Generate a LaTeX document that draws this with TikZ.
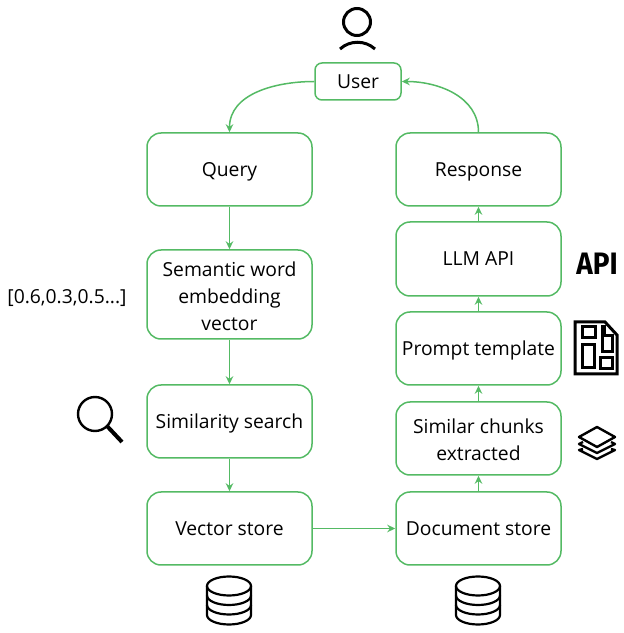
\documentclass[tikz,border=0pt]{standalone}
\usepackage{fontspec}
\setmainfont{Open Sans}
\newfontfamily\apifont{Fira Sans}
\usetikzlibrary{arrows.meta}
\definecolor{boxgreen}{RGB}{84,186,100}
\tikzset{
    box/.style={draw=boxgreen, line width=1.5pt, rounded corners=14pt, minimum width=165pt, align=center, font=\fontsize{19.3}{27}\selectfont, inner sep=0pt},
    oneline/.style={box, text height=16pt, text depth=2.5pt},
    link/.style={draw=boxgreen, line width=1.5pt, -{Stealth[length=8pt,width=7.5pt]}},
    icon/.style={draw=black, line width=3pt, fill=none},
    dbicon/.pic={
        \draw[black, line width=2.2pt] (0,0) ellipse [x radius=22, y radius=9.5];
        \draw[black, line width=2.2pt] (-22,0) -- (-22,-29) arc [start angle=180, end angle=360, x radius=22, y radius=9.5] -- (22,0);
        \draw[black, line width=2.2pt] (-22,-9.5) arc [start angle=180, end angle=360, x radius=22, y radius=9.5];
        \draw[black, line width=2.2pt] (-22,-19) arc [start angle=180, end angle=360, x radius=22, y radius=9.5];
    }
}
\begin{document}
\begin{tikzpicture}[x=1pt, y=1pt]
    \useasboundingbox (0,0) rectangle (624,633);
    % left column
    \node[oneline, minimum width=86pt, minimum height=37pt, rounded corners=7pt] (user) at (358,551.5) {User};
    \node[oneline, minimum height=73pt] (query) at (229.5,463.5) {Query};
    \node[box, minimum height=89pt] (semantic) at (229.5,338.5) {\rule{0pt}{18pt}Semantic word\\embedding\\vector};
    \node[oneline, minimum height=73pt] (similarity) at (229.5,211.5) {Similarity search};
    \node[oneline, minimum height=73pt] (vector) at (229.5,104.5) {Vector store};
    % right column
    \node[oneline, minimum height=73pt] (response) at (478.5,463.5) {Response};
    \node[oneline, minimum height=74pt] (llm) at (478.5,374) {LLM API};
    \node[oneline, minimum height=73pt] (prompt) at (478.5,284.5) {Prompt template};
    \node[box, minimum height=73pt] (chunks) at (478.5,194.5) {\rule{0pt}{18pt}Similar chunks\\extracted};
    \node[oneline, minimum height=73pt] (document) at (478.5,104.5) {Document store};
    \node[font=\fontsize{19.3}{22}\selectfont, inner sep=0pt] (numbers) at (67,335) {[0.6,0.3,0.5...]};
    \node[font=\apifont\bfseries\fontsize{31}{31}\selectfont, inner sep=0pt, xscale=0.9] (api) at (597,369) {API};

    \draw[link] (user.west) to[out=180, in=90] (query.north);
    \draw[link] (query) -- (semantic);
    \draw[link] (semantic) -- (similarity);
    \draw[link] (similarity) -- (vector);
    \draw[link] (vector) -- (document);
    \draw[link] (document) -- (chunks);
    \draw[link] (chunks) -- (prompt);
    \draw[link] (prompt) -- (llm);
    \draw[link] (llm) -- (response);
    \draw[link] (response.north) to[out=90, in=0] (user.east);

    % person
    \draw[icon] (357,611) circle (13.5);
    \draw[icon] (340,584) .. controls (350,593) and (365,593) .. (375,584);
    % magnifier
    \draw[icon, line width=2.4pt] (95,219) circle (17);
    \draw[icon, line width=4pt] (107,207) -- (122,191);
    % page
    \draw[icon] (575,311) -- (605,311) -- (617,298) -- (617,259) -- (575,259) -- cycle;
    \draw[icon] (582,306) rectangle (595,295);
    \draw[icon] (582,288) rectangle (594,265);
    \draw[icon] (602,308) -- (602,281) -- (612,281) -- (612,297) -- (604,297) -- (604,308);
    \draw[icon] (600,275) rectangle (612,264);
    % layers
    \draw[icon, line width=2.4pt, line join=round] (597,206) -- (615,196) -- (597,186) -- (579,196) -- cycle;
    \draw[icon, line width=2.4pt, line join=round] (583,191) -- (579,189) -- (597,180) -- (615,189) -- (611,191);
    \draw[icon, line width=2.4pt, line join=round] (583,184) -- (579,183) -- (597,174) -- (615,183) -- (611,184);
    % stores
    \pic at (229,47) {dbicon};
    \pic at (478,47) {dbicon};
\end{tikzpicture}
\end{document}
